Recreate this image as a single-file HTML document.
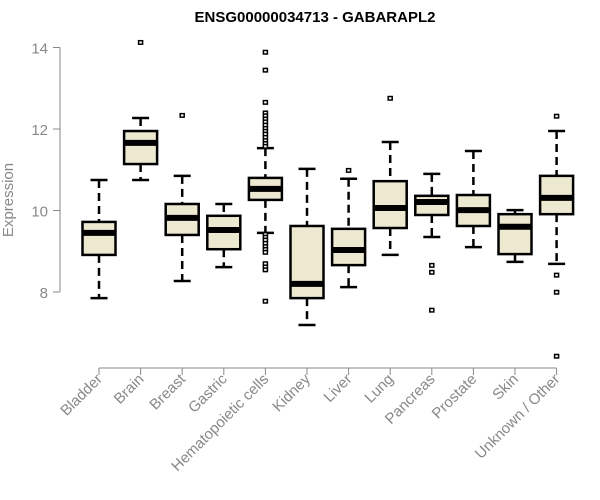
<!DOCTYPE html>
<html><head><meta charset="utf-8"><style>
body{margin:0;background:#fff;}
svg{display:block;font-family:"Liberation Sans",Arial,sans-serif;}
</style></head><body>
<svg id="chart" width="600" height="500">
<text x="315" y="22" text-anchor="middle" font-weight="bold" font-size="15" fill="#000">ENSG00000034713 - GABARAPL2</text>
<text transform="translate(13,200) rotate(-90)" text-anchor="middle" font-size="15" fill="#888">Expression</text>
<g id="axes"></g><g id="boxes"></g>
</svg>
<script>
const categories=["Bladder","Brain","Breast","Gastric","Hematopoietic cells","Kidney","Liver","Lung","Pancreas","Prostate","Skin","Unknown / Other"];
const whiskerLow=[7.85,10.75,8.27,8.61,9.45,7.19,8.12,8.91,9.35,9.10,8.74,8.69];
const q1=[8.91,11.14,9.40,9.05,10.26,7.85,8.66,9.57,9.89,9.62,8.93,9.91];
const medians=[9.45,11.66,9.82,9.52,10.53,8.20,9.03,10.06,10.21,10.01,9.60,10.31];
const q3=[9.72,11.95,10.16,9.87,10.80,9.62,9.55,10.72,10.36,10.38,9.91,10.85];
const whiskerHigh=[10.75,12.27,10.85,10.16,11.53,11.02,10.78,11.68,10.90,11.46,10.01,11.95];
const outliers=[[],[14.13],[12.34],[],[13.89,13.45,12.66,12.4,12.33,12.25,12.18,12.1,12.02,11.95,11.88,11.8,11.72,11.65,11.58,9.42,9.35,9.28,9.2,9.12,9.05,8.98,8.7,8.62,8.55,7.78],[],[10.99],[12.76],[8.66,8.49,7.56],[],[],[12.32,8.42,8.0,6.43]];
const yTicks=[8,10,12,14];
const NS="http://www.w3.org/2000/svg";
const y=v=>292-(v-8)*40.75;
const x=i=>99+i*41.6;
function mk(p,t,a){const e=document.createElementNS(NS,t);for(const k in a)e.setAttribute(k,a[k]);p.appendChild(e);return e;}
const ax=document.getElementById('axes'),bx=document.getElementById('boxes');
let l=mk(ax,'line',{x1:60,x2:60,y1:y(14),y2:y(8),stroke:'#888'});


yTicks.forEach(t=>{
 mk(ax,'line',{x1:53,x2:60,y1:y(t),y2:y(t),stroke:'#888'});
 const tx=mk(ax,'text',{x:48,y:y(t)+6,'text-anchor':'end','font-size':15,fill:'#888'});tx.textContent=t;
 
 
});
l=mk(ax,'line',{x1:x(0),x2:x(11),y1:368,y2:368,stroke:'#888'});


categories.forEach((c,i)=>{
 mk(ax,'line',{x1:x(i),x2:x(i),y1:368,y2:375,stroke:'#888'});
 const tx=mk(ax,'text',{transform:`translate(${x(i)+4},${380}) rotate(-45)`,'text-anchor':'end','font-size':15,fill:'#888'});tx.textContent=c;
 
 
 const g=mk(bx,'g',{});
 
 
 const cx=x(i);
 mk(g,'line',{x1:cx,x2:cx,y1:y(whiskerHigh[i]),y2:y(q3[i]),stroke:'#000','stroke-width':2.5,'stroke-dasharray':'8,5'});
 mk(g,'line',{x1:cx,x2:cx,y1:y(q1[i]),y2:y(whiskerLow[i]),stroke:'#000','stroke-width':2.5,'stroke-dasharray':'8,5'});
 mk(g,'line',{x1:cx-8.5,x2:cx+8.5,y1:y(whiskerHigh[i]),y2:y(whiskerHigh[i]),stroke:'#000','stroke-width':2.5});
 mk(g,'line',{x1:cx-8.5,x2:cx+8.5,y1:y(whiskerLow[i]),y2:y(whiskerLow[i]),stroke:'#000','stroke-width':2.5});
 mk(g,'rect',{x:cx-16.5,y:y(q3[i]),width:33,height:y(q1[i])-y(q3[i]),fill:'#EDE8D0',stroke:'#000','stroke-width':2.5});
 mk(g,'line',{x1:cx-16.5,x2:cx+16.5,y1:y(medians[i]),y2:y(medians[i]),stroke:'#000','stroke-width':6});
 outliers[i].forEach(o=>{mk(g,'rect',{x:cx-2,y:y(o)-1.5,width:4,height:3.5,fill:'#fff',stroke:'#000','stroke-width':1.5});});
});
</script>
</body></html>
